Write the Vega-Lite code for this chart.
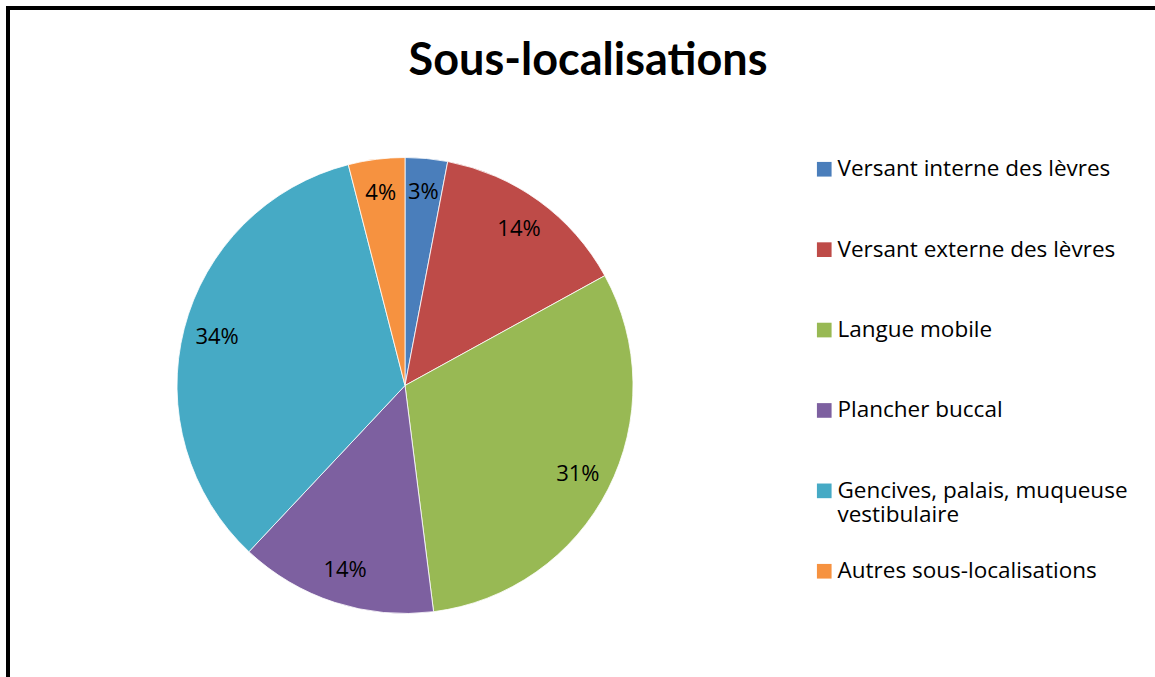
{
  "$schema": "https://vega.github.io/schema/vega-lite/v6.json",
  "padding": {"left": 8, "top": 8, "right": 0, "bottom": 0},
  "width": 1160,
  "height": 755,
  "background": "white",
  "view": {"stroke": "#000000", "strokeWidth": 4, "fill": "white"},
  "title": {
    "text": "Sous-localisations",
    "font": "Lato",
    "fontSize": 45,
    "fontWeight": "bold",
    "color": "#000000",
    "anchor": "middle",
    "frame": "group",
    "baseline": "top",
    "offset": -76
  },
  "config": {
    "style": {"view": {"stroke": "#000000", "strokeWidth": 4, "fill": "white"}}
  },
  "data": {
    "values": [
      {"categorie": "Versant interne des lèvres", "ordre": 1, "part": 0.03},
      {"categorie": "Versant externe des lèvres", "ordre": 2, "part": 0.14},
      {"categorie": "Langue mobile", "ordre": 3, "part": 0.31},
      {"categorie": "Plancher buccal", "ordre": 4, "part": 0.14},
      {"categorie": "Gencives, palais, muqueuse vestibulaire", "ordre": 5, "part": 0.34},
      {"categorie": "Autres sous-localisations", "ordre": 6, "part": 0.04}
    ]
  },
  "encoding": {
    "theta": {"field": "part", "type": "quantitative", "stack": true},
    "order": {"field": "ordre", "type": "quantitative"}
  },
  "layer": [
    {
      "mark": {"type": "arc", "outerRadius": 228, "xOffset": -183, "stroke": "#ffffff", "strokeWidth": 0.8},
      "encoding": {
        "color": {
          "field": "categorie",
          "type": "nominal",
          "sort": ["Versant interne des lèvres", "Versant externe des lèvres", "Langue mobile", "Plancher buccal", "Gencives, palais, muqueuse vestibulaire", "Autres sous-localisations"],
          "scale": {
            "domain": ["Versant interne des lèvres", "Versant externe des lèvres", "Langue mobile", "Plancher buccal", "Gencives, palais, muqueuse vestibulaire", "Autres sous-localisations"],
            "range": ["#4A7EBB", "#BE4B48", "#98B954", "#7D60A0", "#46AAC5", "#F69240"]
          },
          "legend": {
            "title": null,
            "orient": "none",
            "legendX": 805,
            "legendY": 150,
            "symbolType": "square",
            "symbolSize": 215,
            "symbolStrokeWidth": 0,
            "symbolOpacity": 1,
            "labelFont": "Open Sans",
            "labelFontSize": 22.5,
            "labelColor": "#000000",
            "labelLimit": 400,
            "labelOffset": 2,
            "rowPadding": 32.4,
            "gridAlign": "all",
            "labelBaseline": "middle",
            "labelExpr": "datum.label == 'Gencives, palais, muqueuse vestibulaire' ? ['Gencives, palais, muqueuse', 'vestibulaire'] : [datum.label, '']"
          }
        }
      }
    },
    {
      "mark": {"type": "text", "radius": 194, "xOffset": -183, "font": "Open Sans", "fontSize": 22, "color": "#000000"},
      "encoding": {
        "text": {"field": "part", "type": "quantitative", "format": ".0%"}
      }
    }
  ]
}
